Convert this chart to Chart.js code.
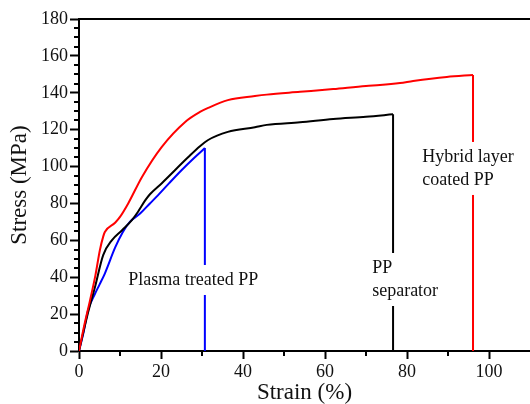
<!DOCTYPE html>
<html>
<head>
<meta charset="utf-8">
<title>Stress-strain curves</title>
<script src="https://cdn.jsdelivr.net/npm/chart.js@4.4.1/dist/chart.umd.min.js"></script>
<style>
    html, body { margin: 0; padding: 0; background: #fff; }
    #wrap { width: 530px; height: 404px; }
</style>
</head>
<body>
<div id="wrap"><canvas id="stressStrainChart" width="530" height="404"></canvas></div>
<script>
// Tick labels
const xTicks = [0, 20, 40, 60, 80, 100];
const yTicks = [0, 20, 40, 60, 80, 100, 120, 140, 160, 180];
const xMinorTicks = [10, 30, 50, 70, 90];
const yMinorTicks = [5, 10, 15, 25, 30, 35, 45, 50, 55, 65, 70, 75, 85, 90, 95, 105, 110, 115, 125, 130, 135, 145, 150, 155, 165, 170, 175];

// Hybrid layer coated PP (red), up to the break point
const hybridStrain = [0, 1.2, 2.7, 4, 5.1, 5.9, 6.3, 8.8, 10, 12, 15.4, 20.2, 25.9, 29.5, 31.5, 36.3, 42.9, 45.8, 53.9, 62, 70, 73.4, 78.3, 81.5, 89.7, 96.1];
const hybridStress = [0, 13, 27.6, 41, 54.8, 62, 64.5, 69.5, 72.7, 80, 94.5, 110.7, 124.2, 129.6, 131.8, 136, 138.2, 139, 140.5, 142, 143.7, 144.2, 145.3, 146.4, 148.6, 149.7];

// PP separator (black)
const ppStrain = [0, 2, 3.9, 5.9, 8, 10.5, 12.9, 14.4, 16.1, 17.3, 20.2, 26.6, 29.5, 31.5, 36.3, 42.9, 45.8, 53.9, 62, 70, 76.6];
const ppStress = [0, 19, 34.7, 52, 60, 65.5, 71, 75.5, 81.5, 85, 91, 105, 111, 114.4, 118.8, 121.3, 122.6, 124, 125.8, 127, 128.3];

// Plasma treated PP (blue)
const plasmaStrain = [0, 1, 2.2, 3.9, 5, 6.3, 8.8, 10.7, 12.4, 14.9, 17.3, 19.3, 22, 25, 28, 30.7];
const plasmaStress = [0, 9, 22, 31, 36, 42, 56, 64.5, 70, 74.5, 80, 84.5, 91, 98, 104.5, 110];

// Curve labels, anchored in data units (left edge, line centre)
const curveLabels = [
    { lines: ['Plasma treated PP'], strain: 12, stress: 38.5 },
    { lines: ['PP', 'separator'], strain: 71.5, stress: 45 },
    { lines: ['Hybrid layer', 'coated PP'], strain: 83.7, stress: 105.2 }
];

const serif = "'Liberation Serif', 'Times New Roman', serif";

function toPoints(xs, ys) {
    return xs.map((x, i) => ({ x: x, y: ys[i] }));
}

// Vertical drop at the break strain
function breakPoints(xs, ys) {
    const last = xs.length - 1;
    return [{ x: xs[last], y: ys[last] }, { x: xs[last], y: 0 }];
}

// Top frame line, minor ticks and the curve labels
const framePlugin = {
    id: 'framePlugin',
    afterDatasetsDraw(chart) {
        const { ctx, chartArea, scales } = chart;
        ctx.save();
        ctx.strokeStyle = '#000';
        ctx.lineWidth = 2;
        ctx.beginPath();
        ctx.moveTo(chartArea.left - 1, chartArea.top);
        ctx.lineTo(chartArea.right, chartArea.top);
        ctx.stroke();

        ctx.beginPath();
        xMinorTicks.forEach(v => {
            const px = Math.round(scales.x.getPixelForValue(v));
            ctx.moveTo(px, chartArea.bottom);
            ctx.lineTo(px, chartArea.bottom + 5);
        });
        yMinorTicks.forEach(v => {
            const py = Math.round(scales.y.getPixelForValue(v));
            ctx.moveTo(chartArea.left, py);
            ctx.lineTo(chartArea.left - 5, py);
        });
        ctx.stroke();

        ctx.font = '18px ' + serif;
        ctx.textBaseline = 'middle';
        ctx.textAlign = 'left';
        curveLabels.forEach(lbl => {
            const x0 = scales.x.getPixelForValue(lbl.strain);
            const y0 = scales.y.getPixelForValue(lbl.stress);
            const lineGap = 23;
            const w = Math.max(...lbl.lines.map(t => ctx.measureText(t).width));
            const h = lineGap * (lbl.lines.length - 1);
            ctx.fillStyle = '#fff';
            ctx.fillRect(x0 - 3, y0 - 15, w + 6, h + 30);
            ctx.fillStyle = '#111';
            lbl.lines.forEach((t, i) => ctx.fillText(t, x0, y0 + i * lineGap));
        });
        ctx.restore();
    }
};

const curveStyle = {
    borderWidth: 2,
    pointRadius: 0,
    cubicInterpolationMode: 'monotone',
    fill: false
};
const dropStyle = {
    borderWidth: 2,
    pointRadius: 0,
    tension: 0,
    fill: false
};

const series = [
    { label: 'Hybrid layer coated PP', xs: hybridStrain, ys: hybridStress, color: '#ff0000' },
    { label: 'PP separator', xs: ppStrain, ys: ppStress, color: '#000000' },
    { label: 'Plasma treated PP', xs: plasmaStrain, ys: plasmaStress, color: '#0000ff' }
];

const datasets = [];
series.forEach(s => {
    datasets.push({ label: s.label, data: toPoints(s.xs, s.ys), borderColor: s.color, ...curveStyle });
    datasets.push({ label: s.label + ' (break)', data: breakPoints(s.xs, s.ys), borderColor: s.color, ...dropStyle });
});

new Chart(document.getElementById('stressStrainChart').getContext('2d'), {
    type: 'line',
    data: { datasets: datasets },
    options: {
        responsive: false,
        animation: false,
        layout: { padding: { top: 19, right: 0, bottom: 0, left: 0 } },
        plugins: {
            legend: { display: false },
            tooltip: { enabled: false }
        },
        scales: {
            x: {
                type: 'linear',
                min: 0,
                max: 110,
                afterBuildTicks: scale => { scale.ticks = xTicks.map(v => ({ value: v })); },
                afterFit: scale => { scale.height = 53; },
                ticks: {
                    color: '#111',
                    font: { family: serif, size: 18 },
                    padding: 2,
                    maxRotation: 0,
                    autoSkip: false
                },
                grid: { drawOnChartArea: false, tickLength: 8, tickWidth: 2, tickColor: '#000' },
                border: { color: '#000', width: 2 },
                title: {
                    display: true,
                    text: 'Strain (%)',
                    color: '#111',
                    font: { family: serif, size: 23, lineHeight: 1 },
                    padding: { top: 0, bottom: 0 }
                }
            },
            y: {
                min: 0,
                max: 180,
                afterBuildTicks: scale => { scale.ticks = yTicks.map(v => ({ value: v })); },
                afterFit: scale => { scale.width = 79; },
                ticks: {
                    color: '#111',
                    font: { family: serif, size: 18 },
                    padding: 2,
                    autoSkip: false
                },
                grid: { drawOnChartArea: false, tickLength: 9, tickWidth: 2, tickColor: '#000' },
                border: { color: '#000', width: 2 },
                title: {
                    display: true,
                    text: 'Stress (MPa)',
                    color: '#111',
                    font: { family: serif, size: 23, lineHeight: 1 },
                    padding: { top: 8, bottom: 0 }
                }
            }
        }
    },
    plugins: [framePlugin]
});
</script>
</body>
</html>
